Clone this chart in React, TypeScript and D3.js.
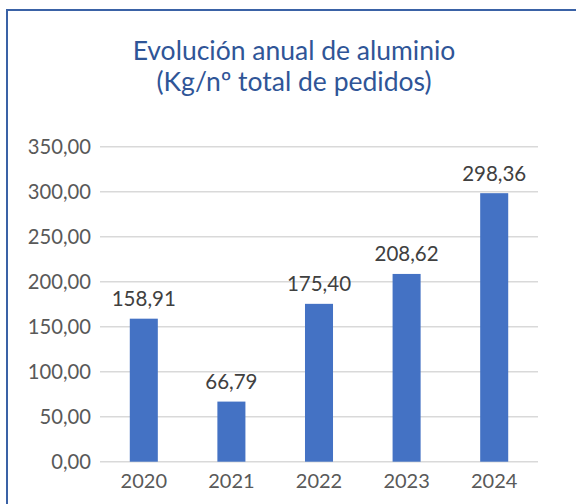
import React from "react";
import * as d3 from "d3";

const years = ["2020", "2021", "2022", "2023", "2024"];
const values = [158.91, 66.79, 175.4, 208.62, 298.36];
const yTicks = [0, 50, 100, 150, 200, 250, 300, 350];
const titleLines = ["Evolución anual de aluminio", "(Kg/nº total de pedidos)"];

const locale = d3.formatLocale({ decimal: ",", thousands: ".", grouping: [3], currency: ["", "€"] });
const fmt = locale.format(".2f");

const FONT = "Lato, 'Open Sans', sans-serif";

export default function App() {
  const width = 576;
  const height = 504;
  const left = 100, right = 538, top = 146.7, bottom = 461.7;

  const x = d3.scaleBand().domain(years).range([left, right]).paddingInner(0.68).paddingOuter(0.34);
  const y = d3.scaleLinear().domain([0, 350]).range([bottom, top]);

  return (
    <svg width={width} height={height} style={{ position: "absolute", left: 0, top: 0 }}>
      <rect x={0} y={0} width={width} height={height} fill="#fff" />
      {/* chart frame, runs past the window on the right and bottom */}
      <rect x={7} y={10} width={600} height={520} fill="none" stroke="#3a62a6" strokeWidth={2} />

      <g fontFamily={FONT} fill="#2f5597" fontSize={26.5} textAnchor="middle">
        {titleLines.map((t, i) => (
          <text key={t} x={294} y={60 + i * 31}>{t}</text>
        ))}
      </g>

      {yTicks.map((t) => (
        <g key={t}>
          <line x1={left} x2={right} y1={y(t)} y2={y(t)} stroke="#d9d9d9" strokeWidth={1.5} />
          <text x={91} y={y(t)} dy="0.34em" textAnchor="end" fontFamily={FONT} fontSize={20.2} fill="#595959">
            {fmt(t)}
          </text>
        </g>
      ))}

      {years.map((yr, i) => (
        <g key={yr}>
          <rect x={x(yr)} y={y(values[i])} width={x.bandwidth()} height={bottom - y(values[i])} fill="#4472c4" />
          <text x={x(yr)! + x.bandwidth() / 2} y={y(values[i]) - 12.5} textAnchor="middle" fontFamily={FONT} fontSize={20.5} fill="#404040">
            {fmt(values[i])}
          </text>
          <text x={x(yr)! + x.bandwidth() / 2} y={488} textAnchor="middle" fontFamily={FONT} fontSize={20} fill="#595959">
            {yr}
          </text>
        </g>
      ))}
    </svg>
  );
}
